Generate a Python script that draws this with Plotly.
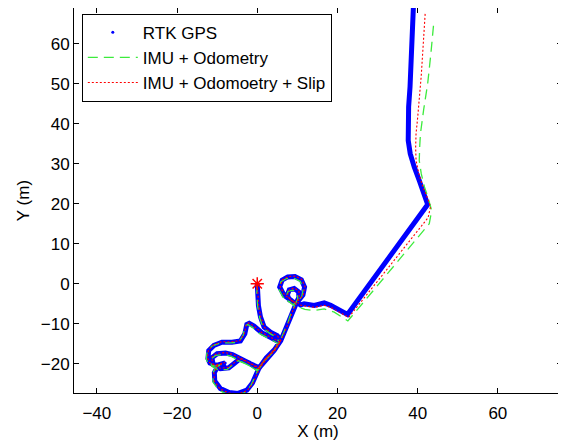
import plotly.graph_objects as go

# RTK GPS trajectory (m)
rtk_x = [0, 0.1, 0.3, 0.8, 1.7, 3.3, 5.0, 5.8,
         4.2, 3.0, 2.1, 0.4,
         -0.3, -1.2, -2.6, -4.8, -7.0, -9.2, -10.6, -10.7, -9.8, -8.0,
         -10.2, -11.8, -12.3, -12.1, -10.8, -8.8, -6.3, -4.2, -3.1, -2.6, -2.0,
         -0.8, 1.2, 3.5, 5.6,
         4.0, 2.0, 0.5,
         -1.7, -3.4, -4.6, -6.2, -7.9, -10.0, -11.3, -11.0, -9.2, -7.1, -5.6, -4.4, -2.0, 0.3,
         2.2, 4.4, 6.0, 7.0, 8.0, 8.8, 9.6,
         8.5, 6.7, 5.6, 6.2, 7.6, 9.4, 11.0, 11.8, 11.4, 10.3, 9.2,
         8.0, 7.5, 8.0, 9.2, 10.3, 10.4, 9.8, 10.8,
         11.7, 14.2, 16.7, 18.3, 20.0, 22.5,
         42.5, 41.65, 40.4, 39.15, 38.15, 37.65, 37.6, 37.75, 38.1, 38.3, 38.6, 38.8, 39.0, 39.1]
rtk_y = [0, -2.5, -5.5, -8.3, -10.8, -12.1, -13.0, -14.2,
         -16.7, -17.8, -18.8, -21.2,
         -22.6, -24.8, -26.6, -27.4, -27.2, -26.2, -24.3, -22.2, -20.6, -19.8,
         -20.4, -19.8, -18.7, -16.7, -15.4, -14.6, -14.6, -14.3, -12.5, -10.2, -9.9,
         -10.6, -12.3, -13.5, -14.6,
         -16.9, -19.0, -21.0,
         -20.0, -19.0, -18.5, -17.7, -17.3, -17.5, -18.5, -20.2, -21.2, -21.0, -19.8, -18.8, -19.8, -21.3,
         -18.6, -16.4, -13.9, -11.5, -9.2, -6.7, -5.2,
         -4.2, -2.9, -0.8, 0.9, 1.7, 1.8, 1.0, -0.8, -2.8, -4.2, -4.8,
         -4.0, -2.8, -1.5, -1.2, -2.0, -3.4, -4.6, -5.3,
         -5.0, -5.4, -4.8, -5.4, -6.3, -7.7,
         19.8, 22.5, 25.8, 29.2, 32.5, 35.8, 39.2, 44.2, 49.2, 54.2, 60.0, 65.8, 70.8, 73.0]

# IMU + Odometry estimate (m)
odo_x = [0, -0.1, 0.1, 0.6, 1.5, 3.1, 4.8, 5.5,
         3.9, 2.7, 1.8, 0.1,
         -0.6, -1.5, -2.9, -5.0, -7.3, -9.6, -11.0, -11.1, -10.2, -8.4,
         -10.6, -12.2, -12.7, -12.5, -11.2, -9.2, -6.7, -4.6, -3.5, -3.0, -2.4,
         -1.2, 0.8, 3.1, 5.2,
         3.6, 1.6, 0.1,
         -2.1, -3.8, -5.0, -6.6, -8.3, -10.4, -11.7, -11.4, -9.6, -7.5, -6.0, -4.8, -2.4, -0.1,
         1.9, 4.1, 5.7, 6.7, 7.7, 8.5, 9.3,
         8.2, 6.4, 5.3, 5.9, 7.3, 9.1, 10.7, 11.5, 11.1, 10.0, 8.9,
         7.7, 7.2, 7.7, 8.9, 10.0, 10.1, 9.5, 10.7,
         11.9, 14.2, 16.7, 19.2, 20.5, 22.6,
         42.9, 43.5, 42.6, 41.7, 40.9, 40.4, 40.5, 40.7, 41.5, 42.5, 43.3, 44.0]
odo_y = [0, -2.5, -5.6, -8.5, -11.1, -12.4, -13.4, -14.7,
         -17.1, -18.3, -19.3, -21.7,
         -23.1, -25.3, -27.1, -27.9, -27.7, -26.6, -24.6, -22.3, -20.8, -20.0,
         -20.6, -20.0, -18.9, -16.8, -15.5, -14.8, -14.8, -14.6, -12.8, -10.5, -10.2,
         -10.9, -12.6, -13.8, -14.9,
         -17.3, -19.4, -21.5,
         -20.4, -19.4, -18.9, -18.1, -17.7, -17.9, -18.9, -20.6, -21.6, -21.4, -20.2, -19.2, -20.2, -21.7,
         -19.0, -16.8, -14.3, -11.9, -9.6, -7.1, -5.6,
         -4.6, -3.3, -1.2, 0.5, 1.3, 1.4, 0.6, -1.2, -3.2, -4.6, -5.2,
         -4.4, -3.2, -1.9, -1.6, -2.4, -3.8, -5.0, -6.0,
         -6.4, -6.7, -6.3, -7.1, -8.0, -9.3,
         15.0, 18.3, 21.5, 24.2, 27.5, 30.8, 34.0, 37.5, 43.5, 50.0, 57.5, 65.0]

# IMU + Odometry + Slip estimate (m)
slip_x = [0, 0.15, 0.35, 0.9, 1.8, 3.4, 5.1, 5.9,
          4.3, 3.1, 2.2, 0.5,
          -0.2, -1.1, -2.5, -4.7, -7.0, -9.3, -10.7, -10.8, -9.9, -8.1,
          -10.3, -11.9, -12.4, -12.2, -10.9, -8.9, -6.4, -4.3, -3.2, -2.7, -2.1,
          -0.9, 1.1, 3.4, 5.5,
          3.9, 1.9, 0.4,
          -1.8, -3.5, -4.7, -6.3, -8.0, -10.1, -11.4, -11.1, -9.3, -7.2, -5.7, -4.5, -2.1, 0.2,
          2.3, 4.5, 6.1, 7.1, 8.1, 8.9, 9.7,
          8.6, 6.8, 5.7, 6.3, 7.7, 9.5, 11.1, 11.9, 11.5, 10.4, 9.3,
          8.1, 7.6, 8.1, 9.3, 10.4, 10.5, 9.9, 10.9,
          11.8, 14.2, 16.7, 18.4, 20.1, 22.8,
          42.6, 43.2, 42.3, 41.3, 40.3, 39.6, 39.5, 39.6, 40.0, 40.4, 40.9, 41.3, 41.6, 41.9]
slip_y = [0, -2.5, -5.5, -8.3, -10.9, -12.2, -13.1, -14.3,
          -16.8, -17.9, -18.9, -21.3,
          -22.7, -24.9, -26.7, -27.5, -27.3, -26.3, -24.3, -22.1, -20.5, -19.7,
          -20.3, -19.7, -18.6, -16.6, -15.3, -14.5, -14.5, -14.2, -12.4, -10.1, -9.8,
          -10.5, -12.2, -13.4, -14.5,
          -16.8, -18.9, -20.9,
          -19.9, -18.9, -18.4, -17.6, -17.2, -17.4, -18.4, -20.1, -21.1, -20.9, -19.7, -18.7, -19.7, -21.2,
          -18.5, -16.3, -13.8, -11.4, -9.1, -6.6, -5.1,
          -4.1, -2.8, -0.7, 1.0, 1.8, 1.9, 1.1, -0.7, -2.7, -4.1, -4.7,
          -3.9, -2.7, -1.4, -1.1, -1.9, -3.3, -4.5, -5.4,
          -5.5, -5.9, -5.4, -5.9, -6.9, -8.4,
          16.5, 19.2, 21.8, 24.2, 27.5, 30.8, 34.0, 37.5, 41.5, 45.8, 52.0, 58.3, 63.0, 67.9]

start_x = [0]
start_y = [0]

x_ticks = [-40, -20, 0, 20, 40, 60]
y_ticks = [-20, -10, 0, 10, 20, 30, 40, 50, 60]

FONT = "Liberation Sans, Arial, Helvetica, sans-serif"
FS = 17

fig = go.Figure()
fig.add_trace(go.Scatter(x=rtk_x, y=rtk_y, mode="lines",
                         line=dict(color="#0000ff", width=5),
                         showlegend=False, hoverinfo="skip"))
fig.add_trace(go.Scatter(x=rtk_x, y=rtk_y, mode="markers", name="RTK GPS",
                         marker=dict(color="#0000ff", size=3)))
fig.add_trace(go.Scatter(x=odo_x, y=odo_y, mode="lines", name="IMU + Odometry",
                         line=dict(color="rgb(60,235,60)", width=1.3, dash="10px,6px")))
fig.add_trace(go.Scatter(x=slip_x, y=slip_y, mode="lines", name="IMU + Odomoetry + Slip",
                         line=dict(color="#ff0000", width=1.1, dash="2px,2px")))
fig.add_trace(go.Scatter(x=start_x, y=start_y, mode="markers", showlegend=False,
                         marker=dict(symbol="asterisk-open", size=11, color="#ff0000",
                                     line=dict(color="#ff0000", width=1.5))))

axis_common = dict(showgrid=False, zeroline=False, showline=True, linecolor="black",
                   linewidth=1, mirror="ticks", ticks="inside", ticklen=5,
                   tickcolor="black", automargin=False,
                   tickfont=dict(family=FONT, size=FS, color="black"))

# page body has an 8px margin: figure is sized/offset to compensate
fig.update_layout(
    width=558, height=433,
    margin=dict(l=66, r=4, t=0, b=48),
    paper_bgcolor="white", plot_bgcolor="white",
    font=dict(family=FONT, size=FS, color="black"),
    xaxis=dict(range=[-45.7, 76], tickvals=x_ticks,
               ticktext=[str(v).replace("-", "\u2212") for v in x_ticks],
               ticklabelstandoff=5,
               title=dict(text="X (m)", font=dict(family=FONT, size=FS), standoff=4),
               **axis_common),
    yaxis=dict(range=[-27.3, 68.9], tickvals=y_ticks,
               ticktext=[str(v).replace("-", "\u2212") for v in y_ticks],
               title=dict(text="Y (m)", font=dict(family=FONT, size=FS), standoff=6),
               **axis_common),
    legend=dict(x=0.016, y=0.985, xanchor="left", yanchor="top",
                bgcolor="white", bordercolor="black", borderwidth=1,
                font=dict(family=FONT, size=17), tracegroupgap=0,
                itemwidth=50),
    showlegend=True,
)

fig.write_html("out.html")
